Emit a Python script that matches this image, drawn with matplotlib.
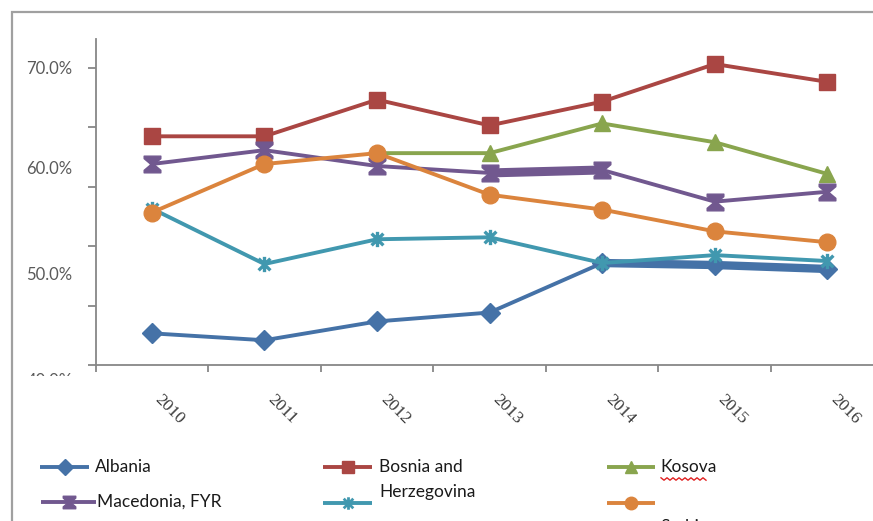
import numpy as np
import matplotlib
matplotlib.use("Agg")
import matplotlib.pyplot as plt
from matplotlib.path import Path
from matplotlib.lines import Line2D
from matplotlib.patches import Rectangle
from matplotlib.transforms import Bbox, TransformedBbox

# ---------------- data ----------------
years = ["2010", "2011", "2012", "2013", "2014", "2015", "2016"]
albania = [43.2, 42.5, 44.4, 45.3, 50.3, 50.1, 49.7]
bosnia = [63.1, 63.1, 66.8, 64.2, 66.6, 70.4, 68.6]
kosova = [np.nan, np.nan, 61.4, 61.4, 64.4, 62.5, 59.3]
macedonia = [60.3, 61.7, 60.1, 59.4, 59.7, 56.5, 57.5]
montenegro = [55.8, 50.2, 52.7, 52.9, 50.3, 51.1, 50.5]
serbia = [55.4, 60.3, 61.4, 57.2, 55.7, 53.5, 52.4]

series_names = ["Albania", "Bosnia and\nHerzegovina", "Kosova", "Macedonia, FYR", "", "Serbia"]
ytick_vals = [40, 46, 52, 58, 64, 70]
ylabel_pos = [70.1, 60.0, 49.2]
ylabel_txt = ["70.0%", "60.0%", "50.0%"]

colors = ["#4572A7", "#AA4643", "#89A54E", "#71588F", "#4198AF", "#DB843D"]

# ---------------- markers ----------------
hourglass = Path([(-1, 1), (1, 1), (1, 0.7), (0.18, 0), (1, -0.7), (1, -1),
                  (-1, -1), (-1, -0.7), (-0.18, 0), (-1, 0.7), (-1, 1)],
                 [Path.MOVETO] + [Path.LINETO] * 9 + [Path.CLOSEPOLY])
asterisk = Path([(-1, -1), (1, 1), (-1, 1), (1, -1), (0, -1.3), (0, 1.3)],
                [Path.MOVETO, Path.LINETO, Path.MOVETO, Path.LINETO, Path.MOVETO, Path.LINETO])

W, H = 873, 521
fig = plt.figure(figsize=(W / 100, H / 100), dpi=100)


def fx(px):
    return px / W


def fy(py):
    return 1 - py / H


font_lbl = "Lato"
grey = "#878787"

# outer frame
fig.add_artist(Rectangle((fx(12), -0.2), 1.2, fy(12) + 0.2, transform=fig.transFigure,
                         fill=False, edgecolor="#A0A0A0", lw=1.6))

ax = fig.add_axes([fx(95.5), fy(365), (883.7 - 95.5) / W, (365 - 39) / H])
ax.set_xlim(-0.5, 6.5)
ax.set_ylim(40, 70 + (68 - 39) / 9.9)
ax.patch.set_visible(False)

x = np.arange(len(years))
styles = [
    dict(marker="D", ms=10),
    dict(marker="s", ms=12),
    dict(marker="^", ms=11),
    dict(marker=hourglass, ms=12),
    dict(marker=asterisk, ms=11, mew=2.4),
    dict(marker="o", ms=12),
]
data = [albania, bosnia, kosova, macedonia, montenegro, serbia]
for i, (vals, st) in enumerate(zip(data, styles)):
    ax.plot(x, vals, color=colors[i], lw=2.8, markerfacecolor=colors[i],
            markeredgecolor=colors[i], zorder=3 + i, clip_on=False, **st)
    if i == 0:
        ax.plot(x[4:], vals[4:], color=colors[i], lw=6.0, zorder=3 + i, solid_capstyle="butt")
    if i == 3:
        ax.plot(x[3:5], vals[3:5], color=colors[i], lw=6.5, zorder=3 + i, solid_capstyle="butt")

for s in ["top", "right"]:
    ax.spines[s].set_visible(False)
for s in ["left", "bottom"]:
    ax.spines[s].set_color(grey)
    ax.spines[s].set_linewidth(1.3)

ax.set_yticks(ytick_vals)
ax.set_yticklabels([])
ax.set_yticks(ylabel_pos, minor=True)
ax.set_yticklabels(ylabel_txt, minor=True)
ax.tick_params(axis="y", which="major", length=6, width=1.3, color=grey, direction="out")
ax.tick_params(axis="y", which="minor", length=0, pad=16.5, labelsize=12, labelcolor="#5a5a5a")

ax.set_xticks(np.arange(-0.5, 7, 1.0))
ax.set_xticklabels([])
ax.set_xticks(x, minor=True)
ax.set_xticklabels(years, minor=True)
ax.tick_params(axis="x", which="major", length=5, width=1.3, color=grey, direction="out")
ax.tick_params(axis="x", which="minor", length=0, pad=19, labelsize=12.5, labelcolor="#3a3a3a")
for lbl in ax.get_yticklabels(minor=True):
    lbl.set_family(font_lbl)
for lbl in ax.get_xticklabels(minor=True):
    lbl.set_rotation(-45)
    lbl.set_ha("left")
    lbl.set_va("top")
    lbl.set_family("Liberation Serif")

# clipped bottom label
t = fig.text(fx(73), fy(381), "40.0%", ha="right", va="center", fontsize=12,
             color="#5a5a5a", family=font_lbl)
t.set_clip_box(TransformedBbox(Bbox([[0, fy(376)], [1, 1]]), fig.transFigure))
t.set_clip_on(True)

# ---------------- legend ----------------
leg_pos = [(40, 89, 467), (323, 372, 467), (607, 655, 467),
           (41, 96, 502), (323, 372, 503), (607, 655, 503)]
text_pos = [(95, 467), (379, 467), (660, 467), (97, 502), (379, 503), (660, 527)]
leg_ms = [8, 9, 8, 9, 9, 9]
for i, ((x0, x1, yy), (tx, ty)) in enumerate(zip(leg_pos, text_pos)):
    st = dict(styles[i])
    st["ms"] = leg_ms[i]
    if "mew" in st:
        st["mew"] = 2
    fig.add_artist(Line2D([fx(x0), fx(x1)], [fy(yy), fy(yy)], transform=fig.transFigure,
                          color=colors[i], lw=2.8, solid_capstyle="butt"))
    fig.add_artist(Line2D([fx((x0 + x1) / 2)], [fy(yy)], transform=fig.transFigure,
                          color=colors[i], lw=0, markerfacecolor=colors[i],
                          markeredgecolor=colors[i], **st))
    if series_names[i]:
        if i == 1:
            lines = series_names[i].split("\n")
            fig.text(fx(tx), fy(ty), lines[0], ha="left", va="center", fontsize=12.5,
                     family=font_lbl, color="#1a1a1a")
            fig.text(fx(tx), fy(492), lines[1], ha="left", va="center", fontsize=12.5,
                     family=font_lbl, color="#1a1a1a")
        else:
            fig.text(fx(tx), fy(ty), series_names[i], ha="left", va="center", fontsize=12.5,
                     family=font_lbl, color="#1a1a1a")

# spell-check squiggle under "Kosova"
zx = np.linspace(661, 706, 16)
zy = 479 + np.where(np.arange(16) % 2 == 0, -1.2, 1.2)
fig.add_artist(Line2D(fx(zx), fy(zy), transform=fig.transFigure, color="#E02020", lw=1.0))

fig.savefig("out.png", dpi=100)
